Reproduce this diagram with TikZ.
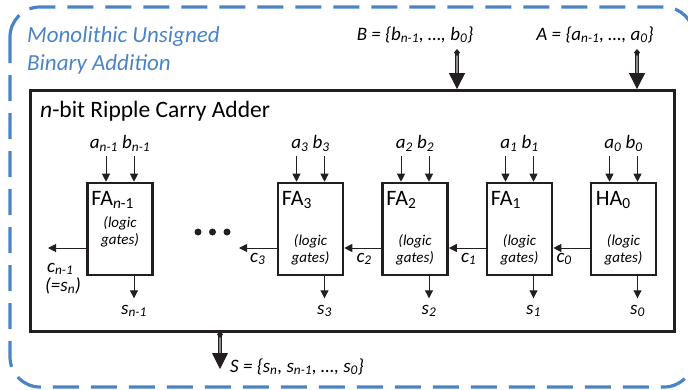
\documentclass[tikz,border=0pt]{standalone}
\usepackage{fontspec}
\setmainfont{Carlito}
\usetikzlibrary{arrows.meta,calc,positioning}
\definecolor{ink}{HTML}{231F20}
\definecolor{frameblue}{HTML}{4A84C6}
\newcommand{\sub}[1]{\textsubscript{#1}}
\tikzset{outerframe/.style={draw=frameblue,line width=3.2pt,dash pattern=on 26pt off 12pt,rounded corners=30pt},adderbox/.style={draw=ink,line width=2.8pt,minimum width=644pt,minimum height=241pt,inner sep=0pt},fabox/.style={draw=ink,line width=2.6pt,minimum width=65pt,minimum height=92pt,inner sep=0pt},sigline/.style={draw=ink,line width=1pt,-{Triangle[width=8pt,length=8pt]}},busline/.style={draw=ink,line width=.9pt,double=black!45,double distance=1.6pt,{Diamond[width=6pt,length=7pt]}-{Triangle[width=16pt,length=16pt]}},titletext/.style={font=\fontsize{23}{28}\selectfont\itshape,text=frameblue,align=left,inner sep=0pt},headtext/.style={font=\fontsize{23.5}{28}\selectfont,inner sep=0pt},buslabel/.style={font=\fontsize{19}{22}\selectfont\itshape,inner sep=0pt},pinlabel/.style={font=\fontsize{19}{18}\selectfont\itshape,inner sep=0pt},unitname/.style={font=\fontsize{22}{26}\selectfont,inner sep=0pt},gatetext/.style={font=\fontsize{15}{16.5}\selectfont\itshape,align=center,inner sep=0pt}}

\begin{document}
\begin{tikzpicture}[x=1pt,y=-1pt]
\useasboundingbox (0,0) rectangle (688,389);
\draw[outerframe] (10,7) rectangle (694,387);
\node[titletext,anchor=north west] (title) at (27,26) {Monolithic Unsigned\\Binary Addition};
% adder and its bus inputs/outputs
\node[adderbox] (rca) at (352.5,211) {};
\node[headtext,anchor=base west] (rcaname) at (40,117) {\textit{n}-bit Ripple Carry Adder};
\coordinate (bsrc) at (457,49);\coordinate (asrc) at (637,49);\coordinate (sdst) at (220,369);
\draw[busline] (bsrc) -- (bsrc |- rca.north);
\draw[busline] (asrc) -- (asrc |- rca.north);
\draw[busline] ($(rca.south -| sdst)+(0,-2)$) -- (sdst);
\node[buslabel,anchor=base] (blabel) at (415,40) {B = \{b\sub{n-1}, …, b\sub{0}\}};
\node[buslabel,anchor=base] (alabel) at (595,40) {A = \{a\sub{n-1}, …, a\sub{0}\}};
\node[buslabel,anchor=base west] (slabel) at (230,372) {S = \{s\sub{n}, s\sub{n-1}, …, s\sub{0}\}};
% adder cells
\node[fabox] (fan) at (120,229) {};
\node[fabox] (fa3) at (310.5,229) {};
\node[fabox] (fa2) at (415,229) {};
\node[fabox] (fa1) at (519.5,229) {};
\node[fabox] (ha0) at (623.5,229) {};
\node[unitname,anchor=base west] (fanname) at ($(fan.north west)+(5,24)$) {FA\sub{\textit{n}-1}};
\node[unitname,anchor=base west] (fa3name) at ($(fa3.north west)+(5,24)$) {FA\sub{3}};
\node[unitname,anchor=base west] (fa2name) at ($(fa2.north west)+(5,24)$) {FA\sub{2}};
\node[unitname,anchor=base west] (fa1name) at ($(fa1.north west)+(5,24)$) {FA\sub{1}};
\node[unitname,anchor=base west] (ha0name) at ($(ha0.north west)+(6,24)$) {HA\sub{0}};
\node[gatetext] (fangates) at ($(fan.center)+(0,3)$) {(logic\\gates)};
\node[gatetext] (fa3gates) at ($(fa3.center)+(0,21)$) {(logic\\gates)};
\node[gatetext] (fa2gates) at ($(fa2.center)+(0,21)$) {(logic\\gates)};
\node[gatetext] (fa1gates) at ($(fa1.center)+(0,21)$) {(logic\\gates)};
\node[gatetext] (ha0gates) at ($(ha0.center)+(0,21)$) {(logic\\gates)};
% operand bits
\coordinate (fana) at ($(fan.north)+(-14,-26)$);\coordinate (fanb) at ($(fan.north)+(14,-26)$);
\coordinate (fa3a) at ($(fa3.north)+(-14,-26)$);\coordinate (fa3b) at ($(fa3.north)+(14,-26)$);
\coordinate (fa2a) at ($(fa2.north)+(-14,-26)$);\coordinate (fa2b) at ($(fa2.north)+(14,-26)$);
\coordinate (fa1a) at ($(fa1.north)+(-14,-26)$);\coordinate (fa1b) at ($(fa1.north)+(14,-26)$);
\coordinate (ha0a) at ($(ha0.north)+(-14,-26)$);\coordinate (ha0b) at ($(ha0.north)+(14,-26)$);
\draw[sigline] (fana) -- (fana |- fan.north);\draw[sigline] (fanb) -- (fanb |- fan.north);
\draw[sigline] (fa3a) -- (fa3a |- fa3.north);\draw[sigline] (fa3b) -- (fa3b |- fa3.north);
\draw[sigline] (fa2a) -- (fa2a |- fa2.north);\draw[sigline] (fa2b) -- (fa2b |- fa2.north);
\draw[sigline] (fa1a) -- (fa1a |- fa1.north);\draw[sigline] (fa1b) -- (fa1b |- fa1.north);
\draw[sigline] (ha0a) -- (ha0a |- ha0.north);\draw[sigline] (ha0b) -- (ha0b |- ha0.north);
\node[pinlabel,anchor=base] (fanin) at ($(fan.north)+(0,-33)$) {a\sub{n-1} b\sub{n-1}};
\node[pinlabel,anchor=base] (fa3in) at ($(fa3.north)+(0,-33)$) {a\sub{3} b\sub{3}};
\node[pinlabel,anchor=base] (fa2in) at ($(fa2.north)+(0,-33)$) {a\sub{2} b\sub{2}};
\node[pinlabel,anchor=base] (fa1in) at ($(fa1.north)+(0,-33)$) {a\sub{1} b\sub{1}};
\node[pinlabel,anchor=base] (ha0in) at ($(ha0.north)+(0,-33)$) {a\sub{0} b\sub{0}};
% sum bits
\coordinate (fans) at ($(fan.south)+(14,22)$);\coordinate (fa3s) at ($(fa3.south)+(14,22)$);\coordinate (fa2s) at ($(fa2.south)+(14,22)$);
\coordinate (fa1s) at ($(fa1.south)+(14,22)$);\coordinate (ha0s) at ($(ha0.south)+(14,22)$);
\draw[sigline] (fan.south -| fans) -- (fans);\draw[sigline] (fa3.south -| fa3s) -- (fa3s);\draw[sigline] (fa2.south -| fa2s) -- (fa2s);
\draw[sigline] (fa1.south -| fa1s) -- (fa1s);\draw[sigline] (ha0.south -| ha0s) -- (ha0s);
\node[pinlabel,anchor=base] (fanout) at ($(fans)+(0,16)$) {s\sub{n-1}};
\node[pinlabel,anchor=base] (fa3out) at ($(fa3s)+(0,16)$) {s\sub{3}};
\node[pinlabel,anchor=base] (fa2out) at ($(fa2s)+(0,16)$) {s\sub{2}};
\node[pinlabel,anchor=base] (fa1out) at ($(fa1s)+(0,16)$) {s\sub{1}};
\node[pinlabel,anchor=base] (ha0out) at ($(ha0s)+(0,16)$) {s\sub{0}};
% carry chain
\coordinate (cnend) at (48,248);\coordinate (c3end) at (239,248);
\draw[sigline] ($(ha0.west)+(0,19)$) -- ($(fa1.east)+(0,19)$);
\draw[sigline] ($(fa1.west)+(0,19)$) -- ($(fa2.east)+(0,19)$);
\draw[sigline] ($(fa2.west)+(0,19)$) -- ($(fa3.east)+(0,19)$);
\draw[sigline] ($(fa3.west)+(0,19)$) -- (c3end);
\draw[sigline] ($(fan.west)+(0,19)$) -- (cnend);
\node[pinlabel,anchor=base west] (c0) at ($(fa1.east)+(3,33)$) {c\sub{0}};
\node[pinlabel,anchor=base west] (c1) at ($(fa2.east)+(12,33)$) {c\sub{1}};
\node[pinlabel,anchor=base west] (c2) at ($(fa3.east)+(12,33)$) {c\sub{2}};
\node[pinlabel,anchor=base west] (c3) at ($(c3end)+(11,14)$) {c\sub{3}};
\node[pinlabel,anchor=base west] (cn) at (47,272) {c\sub{n-1}};
\node[pinlabel,anchor=base west] (cnsum) at (45,291) {(=s\sub{n})};
\fill[ink] (198,232) circle (3.5);\fill[ink] (212.5,232) circle (3.5);\fill[ink] (227,232) circle (3.5);
\end{tikzpicture}
\end{document}
